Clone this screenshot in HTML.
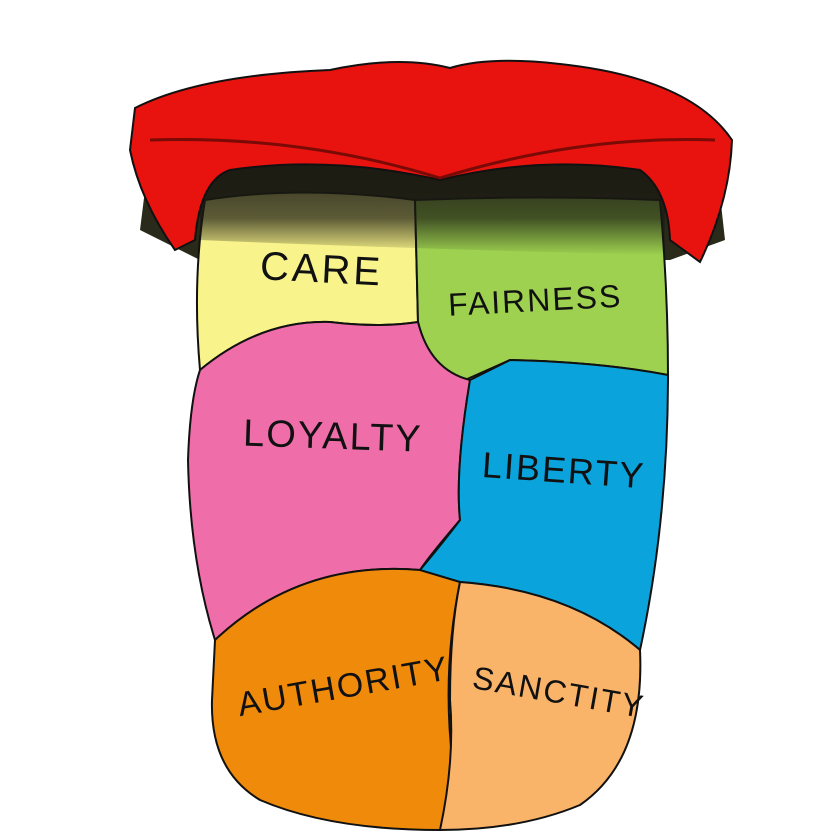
<!DOCTYPE html>
<html><head><meta charset="utf-8"><style>
html,body{margin:0;padding:0;background:#fff;}
svg{display:block}
text{font-family:"Liberation Sans",sans-serif;fill:#111;}
</style></head><body>
<svg width="840" height="840" viewBox="0 0 840 840" xmlns="http://www.w3.org/2000/svg">
<rect width="840" height="840" fill="#fff"/>
<path d="M150 150 L715 150 L725 240 L670 260 L200 260 L140 230 Z" fill="#2a2a1a"/>
<path d="M205 200 Q300 185 415 200 L418 322 Q380 328 330 322 Q260 320 200 370 Q192 280 205 200 Z" fill="#f8f38a" stroke="#111" stroke-width="2"/>
<path d="M415 200 Q540 195 660 200 Q668 290 668 375 Q600 362 510 360 L465 380 Q430 370 418 322 Z" fill="#9dd14f" stroke="#111" stroke-width="2"/>
<path d="M200 370 Q260 320 330 322 Q380 328 418 322 Q430 370 470 380 Q455 470 460 520 Q430 555 420 570 Q300 560 215 640 Q190 560 188 460 Q190 400 200 370 Z" fill="#ef6eaa" stroke="#111" stroke-width="2"/>
<path d="M470 380 L510 360 Q600 362 668 375 Q668 520 640 650 Q570 590 460 582 Q430 575 420 570 Q445 540 460 520 Q455 470 470 380 Z" fill="#0aa3dc" stroke="#111" stroke-width="2"/>
<path d="M215 640 Q300 560 420 570 L460 582 Q440 680 455 780 Q450 810 440 830 Q330 830 260 800 Q210 770 212 700 Z" fill="#f08a0a" stroke="#111" stroke-width="2"/>
<path d="M460 582 Q570 590 640 650 Q645 760 580 805 Q520 830 440 830 Q455 760 450 700 Q450 630 460 582 Z" fill="#fab46a" stroke="#111" stroke-width="2"/>
<defs>
<linearGradient id="g" x1="0" y1="0" x2="0" y2="1">
<stop offset="0" stop-color="#1a1a12" stop-opacity="0.95"/>
<stop offset="0.65" stop-color="#1a1a12" stop-opacity="0.7"/>
<stop offset="1" stop-color="#1a1a12" stop-opacity="0"/>
</linearGradient>
</defs>
<path d="M200 150 L665 150 L665 255 Q440 250 200 240 Z" fill="url(#g)"/>
<path d="M135 108 Q200 75 330 70 Q400 55 450 68 Q490 56 560 64 Q690 78 732 140 Q730 200 700 262 L670 240 Q668 190 640 170 Q540 155 440 180 Q330 155 230 170 Q200 180 195 240 L175 250 Q140 200 130 150 Z" fill="#e8130f" stroke="#111" stroke-width="2"/>
<path d="M150 140 Q300 135 440 178 Q580 135 715 140" fill="none" stroke="#7a0a05" stroke-width="3"/>
<text x="260" y="282" font-size="40" transform="rotate(3 315 270)" letter-spacing="3">CARE</text>
<text x="448" y="312" font-size="32" transform="rotate(-3 520 300)" letter-spacing="2">FAIRNESS</text>
<text x="243" y="448" font-size="38" transform="rotate(2 315 440)" letter-spacing="2">LOYALTY</text>
<text x="482" y="482" font-size="36" transform="rotate(4 555 470)" letter-spacing="2">LIBERTY</text>
<text x="235" y="700" font-size="34" transform="rotate(-10 330 680)" letter-spacing="2">AUTHORITY</text>
<text x="470" y="700" font-size="32" transform="rotate(10 540 700)" letter-spacing="2">SANCTITY</text>
</svg>
</body></html>
